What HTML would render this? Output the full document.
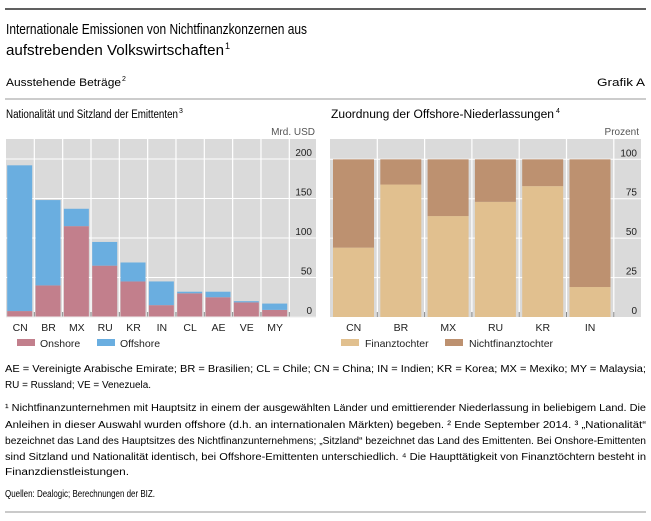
<!DOCTYPE html>
<html><head><meta charset="utf-8"><style>
html,body{margin:0;padding:0;background:#fff}
svg{display:block;font-family:"Liberation Sans",sans-serif}
</style></head><body>
<svg id="c" width="651" height="521" viewBox="0 0 651 521">
<line x1="5" y1="9" x2="646" y2="9" stroke="#000" stroke-width="1.2"/>
<text x="6" y="34" font-size="15" textLength="301" lengthAdjust="spacingAndGlyphs">Internationale Emissionen von Nichtfinanzkonzernen aus</text>
<text x="6" y="55" font-size="15" textLength="218" lengthAdjust="spacingAndGlyphs">aufstrebenden Volkswirtschaften</text>
<text x="225" y="49" font-size="9">1</text>
<text x="6" y="86" font-size="11" textLength="115" lengthAdjust="spacingAndGlyphs">Ausstehende Beträge</text>
<text x="122" y="81" font-size="7">2</text>
<text x="645" y="86" font-size="11" text-anchor="end" textLength="48" lengthAdjust="spacingAndGlyphs">Grafik A</text>
<line x1="5" y1="99" x2="646" y2="99" stroke="#999" stroke-width="1"/>
<text x="6" y="118" font-size="11.5" textLength="172" lengthAdjust="spacingAndGlyphs">Nationalität und Sitzland der Emittenten</text>
<text x="179" y="113" font-size="7">3</text>
<text x="331" y="118" font-size="11.5" textLength="223" lengthAdjust="spacingAndGlyphs">Zuordnung der Offshore-Niederlassungen</text>
<text x="556" y="113" font-size="7">4</text>
<g id="left"></g>
<g id="right"></g>
<g font-size="10">
<text x="5" y="372" textLength="641" lengthAdjust="spacingAndGlyphs">AE = Vereinigte Arabische Emirate; BR = Brasilien; CL = Chile; CN = China; IN = Indien; KR = Korea; MX = Mexiko; MY = Malaysia;</text>
<text x="5" y="388" textLength="146" lengthAdjust="spacingAndGlyphs">RU = Russland; VE = Venezuela.</text>
<text x="5" y="411" textLength="641" lengthAdjust="spacingAndGlyphs">¹ Nichtfinanzunternehmen mit Hauptsitz in einem der ausgewählten Länder und emittierender Niederlassung in beliebigem Land. Die</text>
<text x="5" y="428" textLength="641" lengthAdjust="spacingAndGlyphs">Anleihen in dieser Auswahl wurden offshore (d.h. an internationalen Märkten) begeben.  ² Ende September 2014.  ³ „Nationalität“</text>
<text x="5" y="444" textLength="641" lengthAdjust="spacingAndGlyphs">bezeichnet das Land des Hauptsitzes des Nichtfinanzunternehmens; „Sitzland“ bezeichnet das Land des Emittenten. Bei Onshore-Emittenten</text>
<text x="5" y="460" textLength="641" lengthAdjust="spacingAndGlyphs">sind Sitzland und Nationalität identisch, bei Offshore-Emittenten unterschiedlich.  ⁴ Die Haupttätigkeit von Finanztöchtern besteht in</text>
<text x="5" y="475" textLength="124" lengthAdjust="spacingAndGlyphs">Finanzdienstleistungen.</text>
<text x="5" y="497" textLength="150" lengthAdjust="spacingAndGlyphs">Quellen: Dealogic; Berechnungen der BIZ.</text>
</g>
<line x1="5" y1="512" x2="646" y2="512" stroke="#aaa" stroke-width="1.2"/>
</svg>
<script>
const leftCats=['CN','BR','MX','RU','KR','IN','CL','AE','VE','MY'];
const onshore=[7.5,40,115,65,45,15,30,25,18.5,9];
const offshore=[184.5,108,22,30,24,30,2,7,1.5,8];
const leftTicks=[0,50,100,150,200];
const rightCats=['CN','BR','MX','RU','KR','IN'];
const finanz=[44,84,64,73,83,19];
const nichtfinanz=[56,16,36,27,17,81];
const rightTicks=[0,25,50,75,100];

const NS='http://www.w3.org/2000/svg';
function mk(p,t,a){const e=document.createElementNS(NS,t);for(const k in a)e.setAttribute(k,a[k]);p.appendChild(e);return e;}

// Left panel
const L=document.getElementById('left');


const lx0=6,lx1=316,ly0=139,ybase=317,ytop=159;
const lcw=28.33;
const ly=v=>ybase-(v/200)*(ybase-ytop);
const lx=i=>lx0+i*lcw;
let bg=mk(L,'rect',{x:lx0,y:ly0,width:lx1-lx0,height:ybase-ly0,fill:'#dadada'});


leftTicks.forEach(t=>{
 if(t>0){const g=mk(L,'line',{x1:lx0,x2:lx1,y1:ly(t),y2:ly(t),stroke:'#fff','stroke-width':1});
 
 }
 const tx=mk(L,'text',{x:312,y:ly(t)-3,'font-size':10,'text-anchor':'end',fill:'#222'});tx.textContent=t;
 
 
});
for(let i=1;i<=leftCats.length;i++){
 const v=mk(L,'line',{x1:lx(i),x2:lx(i),y1:ly0,y2:ybase,stroke:'#fff','stroke-width':1.2});
 
 
 mk(L,'line',{x1:lx(i),x2:lx(i),y1:ybase-5,y2:ybase,stroke:'#888','stroke-width':1});
}
leftCats.forEach((c,i)=>{
 const x=lx(i)+1.2,w=25;
 const r1=mk(L,'rect',{x:x,y:ly(onshore[i]),width:w,height:ybase-ly(onshore[i]),fill:'#c27f8c'});
 
 
 const r2=mk(L,'rect',{x:x,y:ly(onshore[i]+offshore[i]),width:w,height:ly(onshore[i])-ly(onshore[i]+offshore[i]),fill:'#6aaee0'});
 
 
 const t=mk(L,'text',{x:lx(i)+lcw/2,y:331,'font-size':10.5,'text-anchor':'middle',fill:'#222'});t.textContent=c;
 
 
});
mk(L,'line',{x1:lx0,x2:lx1,y1:ybase,y2:ybase,stroke:'#eee'});
let u=mk(L,'text',{x:315,y:135,'font-size':10,'text-anchor':'end',fill:'#555'});u.textContent='Mrd. USD';


[[17,'#c27f8c','Onshore',40],[97,'#6aaee0','Offshore',120]].forEach(([sx,col,lab,tx])=>{
 const g=mk(L,'g',{});
 
 
 mk(g,'rect',{x:sx,y:339,width:18,height:7,fill:col});
 const t=mk(g,'text',{x:tx,y:347,'font-size':10.5,fill:'#222'});t.textContent=lab;
});

// Right panel
const R=document.getElementById('right');


const rx0=330,rx1=641,rtop=159.3;
const rcw=47.3;
const ry=v=>ybase-(v/100)*(ybase-rtop);
const rx=i=>rx0+i*rcw;
bg=mk(R,'rect',{x:rx0,y:ly0,width:rx1-rx0,height:ybase-ly0,fill:'#dadada'});


rightTicks.forEach(t=>{
 if(t>0){const g=mk(R,'line',{x1:rx0,x2:rx1,y1:ry(t),y2:ry(t),stroke:'#fff','stroke-width':1});
 
 }
 const tx=mk(R,'text',{x:637,y:ry(t)-3,'font-size':10,'text-anchor':'end',fill:'#222'});tx.textContent=t;
 
 
});
for(let i=1;i<=rightCats.length;i++){
 const v=mk(R,'line',{x1:rx(i),x2:rx(i),y1:ly0,y2:ybase,stroke:'#fff','stroke-width':1.2});
 
 
 mk(R,'line',{x1:rx(i),x2:rx(i),y1:ybase-5,y2:ybase,stroke:'#888','stroke-width':1});
}
rightCats.forEach((c,i)=>{
 const x=rx(i)+3,w=41;
 const r1=mk(R,'rect',{x:x,y:ry(finanz[i]),width:w,height:ybase-ry(finanz[i]),fill:'#e1c08f'});
 
 
 const r2=mk(R,'rect',{x:x,y:ry(finanz[i]+nichtfinanz[i]),width:w,height:ry(finanz[i])-ry(finanz[i]+nichtfinanz[i]),fill:'#bd9170'});
 
 
 const t=mk(R,'text',{x:rx(i)+rcw/2,y:331,'font-size':10.5,'text-anchor':'middle',fill:'#222'});t.textContent=c;
 
 
});
u=mk(R,'text',{x:639,y:135,'font-size':10,'text-anchor':'end',fill:'#555'});u.textContent='Prozent';


[[341,'#e1c08f','Finanztochter',365],[445,'#bd9170','Nichtfinanztochter',469]].forEach(([sx,col,lab,tx])=>{
 const g=mk(R,'g',{});
 
 
 mk(g,'rect',{x:sx,y:339,width:18,height:7,fill:col});
 const t=mk(g,'text',{x:tx,y:347,'font-size':10.5,fill:'#222'});t.textContent=lab;
});
</script>
</body></html>
